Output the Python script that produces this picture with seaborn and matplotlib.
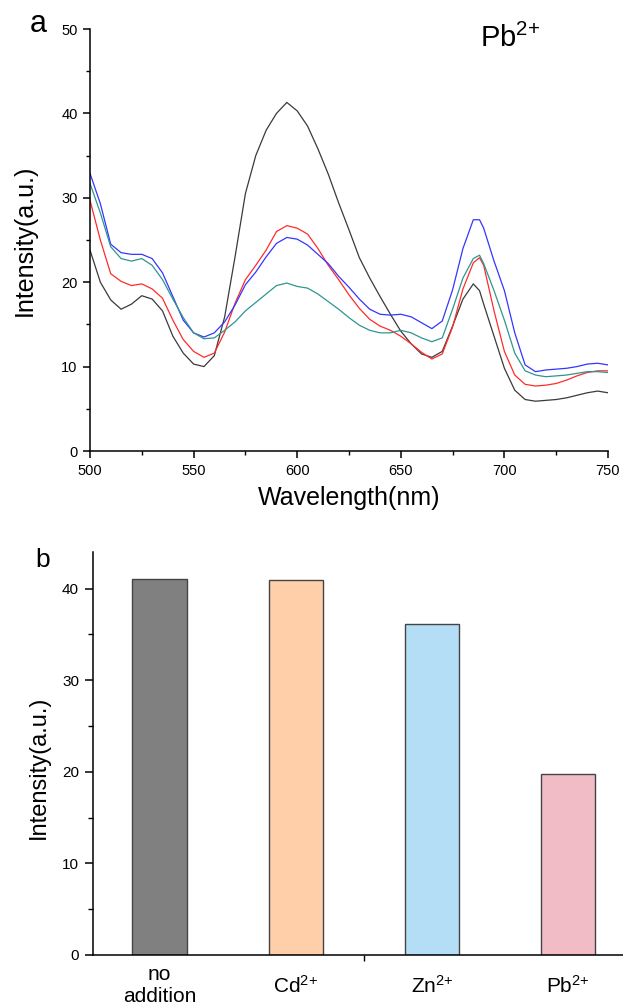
import matplotlib
matplotlib.use("Agg")
import matplotlib.pyplot as plt
from matplotlib.ticker import MultipleLocator, FixedLocator
import seaborn as sns
import pandas as pd

# emission spectra (panel a)
wavelength = [500, 505, 510, 515, 520, 525, 530, 535, 540, 545, 550, 555, 560, 565,
              570, 575, 580, 585, 590, 595, 600, 605, 610, 615, 620, 625, 630, 635,
              640, 645, 650, 655, 660, 665, 670, 675, 680, 685, 688, 690, 695, 700,
              705, 710, 715, 720, 725, 730, 735, 740, 745, 750]

black_curve = [23.8, 20.0, 17.9, 16.8, 17.4, 18.4, 18.0, 16.6, 13.6, 11.6, 10.3, 10.0, 11.3, 15.9,
               23.0, 30.5, 35.0, 38.0, 40.0, 41.3, 40.3, 38.5, 35.8, 32.8, 29.4, 26.2, 22.9, 20.5,
               18.3, 16.2, 14.2, 12.7, 11.5, 11.1, 11.8, 14.8, 18.0, 19.8, 19.0, 17.4, 13.6, 9.8,
               7.2, 6.1, 5.9, 6.0, 6.1, 6.3, 6.6, 6.9, 7.1, 6.9]

red_curve = [29.7, 25.0, 21.0, 20.1, 19.6, 19.8, 19.2, 18.1, 15.5, 13.2, 11.8, 11.1, 11.6, 14.1,
             17.5, 20.3, 22.0, 23.8, 26.0, 26.7, 26.4, 25.7, 24.0, 22.0, 20.3, 18.5, 16.9, 15.6,
             14.8, 14.3, 13.6, 12.7, 11.7, 10.9, 11.5, 14.7, 19.2, 22.3, 22.9, 22.0, 16.6, 11.8,
             9.0, 7.9, 7.7, 7.8, 8.0, 8.4, 8.9, 9.3, 9.5, 9.5]

blue_curve = [32.9, 29.3, 24.5, 23.5, 23.3, 23.3, 22.8, 21.1, 18.3, 15.5, 14.0, 13.5, 14.0, 15.3,
              17.3, 19.7, 21.2, 23.0, 24.6, 25.3, 25.1, 24.4, 23.3, 22.2, 20.7, 19.4, 18.0, 16.8,
              16.2, 16.1, 16.2, 15.9, 15.2, 14.5, 15.4, 19.1, 24.0, 27.4, 27.4, 26.4, 22.5, 19.0,
              14.0, 10.2, 9.4, 9.6, 9.7, 9.8, 10.0, 10.3, 10.4, 10.2]

teal_curve = [31.7, 28.2, 24.2, 22.8, 22.5, 22.8, 22.0, 20.3, 18.0, 15.8, 14.0, 13.3, 13.4, 14.3,
              15.3, 16.6, 17.6, 18.6, 19.6, 19.9, 19.5, 19.3, 18.6, 17.7, 16.8, 15.8, 14.9, 14.3,
              14.0, 14.0, 14.3, 14.0, 13.4, 12.95, 13.4, 16.8, 20.5, 22.8, 23.2, 22.2, 19.0, 15.5,
              11.6, 9.5, 9.0, 8.8, 8.9, 9.0, 9.2, 9.4, 9.4, 9.3]

curve_colors = {"black": "#3a3a3a", "red": "#ff2b2b", "blue": "#3535ff", "teal": "#2f9590"}

# peak intensities (panel b)
categories = ["no\naddition", r"Cd$^{2{+}}$", r"Zn$^{2{+}}$", r"Pb$^{2{+}}$"]
bar_values = [41.1, 40.95, 36.15, 19.75]
bar_colors = ["#808080", "#ffcfaa", "#b3def5", "#f1bcc6"]

sns.set_theme(style="ticks")
plt.rcParams["font.family"] = ["Liberation Sans", "DejaVu Sans"]
plt.rcParams["mathtext.fontset"] = "custom"
plt.rcParams["mathtext.rm"] = "Liberation Sans"
plt.rcParams["mathtext.it"] = "Liberation Sans"
plt.rcParams["mathtext.default"] = "regular"
plt.rcParams["axes.linewidth"] = 1.1
plt.rcParams["axes.edgecolor"] = "black"
plt.rcParams["axes.labelcolor"] = "black"
plt.rcParams["text.color"] = "black"
plt.rcParams["xtick.color"] = "black"
plt.rcParams["ytick.color"] = "black"

fig = plt.figure(figsize=(6.23, 10.07), dpi=100)
fig.patch.set_facecolor("white")

# ---- panel a
ax1 = fig.add_axes([90 / 623, 1 - 451 / 1007, 518 / 623, 422 / 1007])
spectra = pd.DataFrame({
    "wavelength": wavelength * 4,
    "intensity": black_curve + red_curve + blue_curve + teal_curve,
    "sample": ["black"] * len(wavelength) + ["red"] * len(wavelength)
              + ["blue"] * len(wavelength) + ["teal"] * len(wavelength),
})
sns.lineplot(data=spectra, x="wavelength", y="intensity", hue="sample",
             palette=curve_colors, estimator=None, sort=False, lw=0.9,
             legend=False, ax=ax1)
ax1.set_xlim(500, 750)
ax1.set_ylim(0, 50)
ax1.xaxis.set_major_locator(MultipleLocator(50))
ax1.xaxis.set_minor_locator(MultipleLocator(25))
ax1.yaxis.set_major_locator(MultipleLocator(10))
ax1.yaxis.set_minor_locator(MultipleLocator(5))
ax1.tick_params(which="major", length=5, width=1.1, labelsize=10.5, pad=4)
ax1.tick_params(which="minor", length=3, width=1.0)
ax1.set_xlabel("Wavelength(nm)", fontsize=18, va="top")
ax1.set_ylabel("Intensity(a.u.)", fontsize=18)
ax1.xaxis.set_label_coords(0.5, -0.082)
ax1.yaxis.set_label_coords(-0.103, 0.5)
sns.despine(ax=ax1)
ax1.text(0.753, 0.957, r"Pb$^{2{+}}$", transform=ax1.transAxes,
         fontsize=21, va="baseline", ha="left")
fig.text(30 / 623, 1 - 32 / 1007, "a", fontsize=22, va="baseline", ha="left")

# ---- panel b
ax2 = fig.add_axes([93 / 623, 1 - 955 / 1007, 543 / 623, 403 / 1007])
bars = pd.DataFrame({"sample": categories, "intensity": bar_values})
sns.barplot(data=bars, x="sample", y="intensity", hue="sample",
            palette=bar_colors, saturation=1, width=0.4, edgecolor="#444444",
            linewidth=1.0, legend=False, ax=ax2)
ax2.set_xlim(-0.49, 3.5)
ax2.set_ylim(0, 44)
ax2.yaxis.set_major_locator(MultipleLocator(10))
ax2.yaxis.set_minor_locator(MultipleLocator(5))
ax2.xaxis.set_minor_locator(FixedLocator([1.5]))
ax2.tick_params(axis="y", which="major", length=6, width=1.1, labelsize=11, pad=4)
ax2.tick_params(axis="y", which="minor", length=3.5, width=1.0)
ax2.tick_params(axis="x", which="major", length=0, labelsize=15, pad=22)
ax2.tick_params(axis="x", which="minor", length=4, width=1.0)
for lab in ax2.get_xticklabels():
    lab.set_va("center")
ax2.set_xlabel("")
ax2.set_ylabel("Intensity(a.u.)", fontsize=17)
ax2.yaxis.set_label_coords(-0.08, 0.466)
sns.despine(ax=ax2)
fig.text(35 / 623, 1 - 567 / 1007, "b", fontsize=19, va="baseline", ha="left")

fig.savefig("out.png", dpi=100, facecolor="white")
